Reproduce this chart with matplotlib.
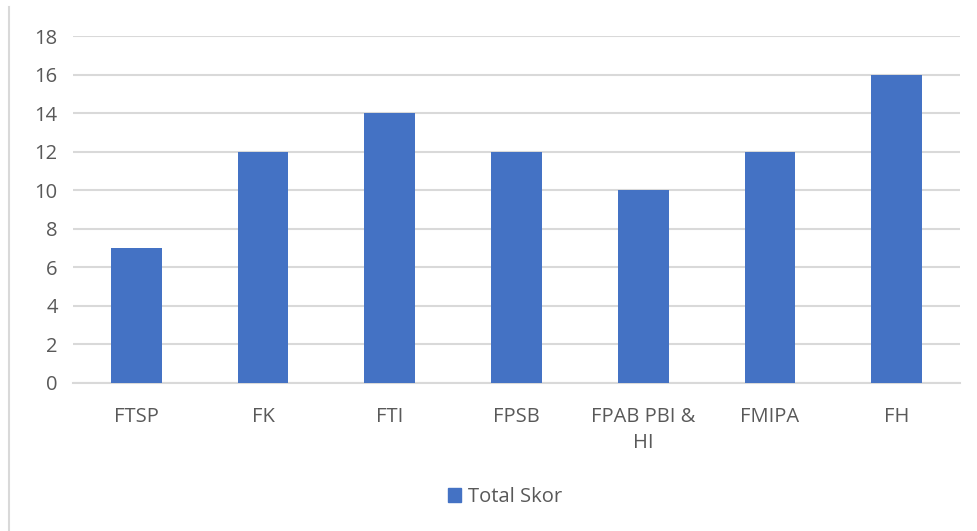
import matplotlib
matplotlib.use("Agg")
import matplotlib.pyplot as plt
from matplotlib.lines import Line2D
from matplotlib.patches import Patch

categories = ["FTSP", "FK", "FTI", "FPSB", "FPAB PBI &\nHI", "FMIPA", "FH"]
values = [7, 12, 14, 12, 10, 12, 16]
series_name = "Total Skor"
yticks = [0, 2, 4, 6, 8, 10, 12, 14, 16, 18]

plt.rcParams['font.family'] = ['Open Sans', 'DejaVu Sans']
color = "#4472C4"
text_color = "#595959"
grid_color = "#D9D9D9"
fs = 14.5

fig = plt.figure(figsize=(9.78, 5.31), dpi=100)
ax = fig.add_axes([73/978, 1-383/531, (960-73)/978, (383-36)/531])
x = list(range(len(categories)))
ax.bar(x, values, width=0.4, color=color, zorder=3)
ax.set_xlim(-0.5, len(categories)-0.5)
ax.set_ylim(0, 18)
ax.set_yticks(yticks)
ax.set_yticklabels([str(t) for t in yticks], color=text_color, fontsize=fs)
ax.set_xticks(x)
ax.set_xticklabels(categories, color=text_color, fontsize=fs, linespacing=1.4, va='top')
ax.tick_params(axis='both', length=0)
ax.tick_params(axis='y', pad=11)
ax.tick_params(axis='x', pad=17)
ax.grid(axis='y', color=grid_color, linewidth=1.5, zorder=0)
for s in ['top', 'right', 'left']:
    ax.spines[s].set_visible(False)
ax.spines['bottom'].set_color(grid_color)
ax.spines['bottom'].set_linewidth(1.5)

leg = fig.legend(handles=[Patch(color=color, label=series_name)], loc='center',
                 bbox_to_anchor=(505/978, 1-497/531), frameon=False, fontsize=fs,
                 handlelength=0.65, handleheight=0.65, handletextpad=0.3)
for t in leg.get_texts():
    t.set_color(text_color)

fig.add_artist(Line2D([9/978, 9/978], [0, 1-7/531], color=grid_color, linewidth=1.5))
fig.savefig("out.png", dpi=100)
